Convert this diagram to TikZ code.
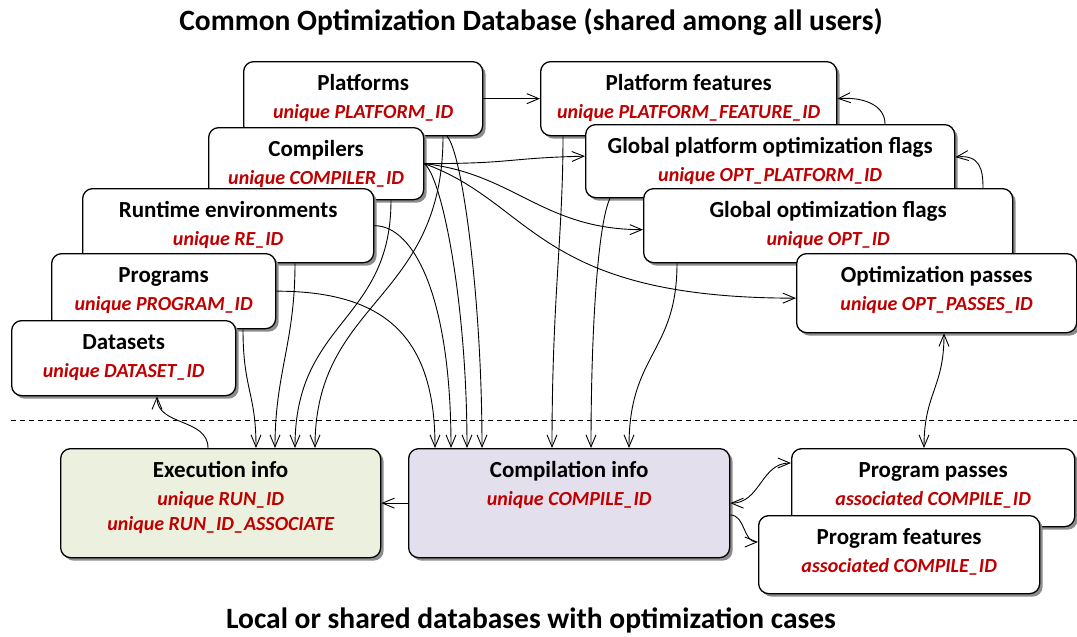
\documentclass[tikz,border=0pt]{standalone}
\usepackage{fontspec}
\setmainfont{Carlito}
\usetikzlibrary{arrows.meta,shadows,calc}

\definecolor{idred}{RGB}{192,0,0}
\definecolor{execfill}{RGB}{235,241,222}
\definecolor{compfill}{RGB}{228,223,236}

\newcommand{\idtext}[1]{{\color{idred}\fontsize{20}{24}\selectfont\bfseries\itshape #1}}
\newcommand{\dbfield}[2]{\begin{tabular}[t]{@{}c@{}}\bfseries #1\\ \idtext{#2}\end{tabular}}

\begin{document}
\begin{tikzpicture}[>={Straight Barb[length=12pt,width=10pt]}, x=1pt, y=-1pt]

\tikzset{%
db table/.style={
draw,
line width=1.3pt,
rounded corners=10pt,
fill=white,
anchor=north west,
inner sep=0pt,
text height=29pt,
font=\fontsize{23}{28}\selectfont,
drop shadow={shadow xshift=3pt, shadow yshift=-3pt, fill=black!45, opacity=1}
},
link/.style={->, line width=0.9pt},
caption/.style={font=\fontsize{29.5}{34}\selectfont\bfseries},
}

\useasboundingbox (0,0) rectangle (1077,637);

% Shared database tables (drawn back to front)
\foreach \nm/\bx/\by/\bw/\bh/\head/\key [evaluate=\bh as \dep using \bh-29] in {
plat/243/61/239/74/Platforms/unique PLATFORM\_ID,
comp/208/127/215/72/Compilers/unique COMPILER\_ID,
rte/82/188/291/74/Runtime environments/unique RE\_ID,
prog/51/253/224/75/Programs/unique PROGRAM\_ID,
data/11/320/224/75/Datasets/unique DATASET\_ID,
pfeat/540/61/296/74/Platform features/unique PLATFORM\_FEATURE\_ID,
gpflags/585/124/369/73/Global platform optimization flags/unique OPT\_PLATFORM\_ID,
gflags/643/188/369/74/Global optimization flags/unique OPT\_ID,
opass/796/253/280/79/Optimization passes/unique OPT\_PASSES\_ID,
ppass/791/448/283/78/Program passes/associated COMPILE\_ID,
pfeat2/758/515/281/78/Program features/associated COMPILE\_ID}
\node [db table, minimum width=\bw, text depth=\dep pt] (\nm) at (\bx,\by) {\dbfield{\head}{\key}};

% Local tables
\node [db table, fill=execfill, minimum width=320, text depth=80pt] (exec) at (60,448)
{\begin{tabular}[t]{@{}c@{}}\bfseries Execution info\\ \idtext{unique RUN\_ID}\\[-3pt] \idtext{unique RUN\_ID\_ASSOCIATE}\end{tabular}};
\node [db table, fill=compfill, minimum width=321, text depth=80pt] (compinfo) at (408,448)
{\dbfield{Compilation info}{unique COMPILE\_ID}};

% Titles and separator
\node [caption] (top-title) at (531,22) {Common Optimization Database (shared among all users)};
\node [caption] (bottom-title) at (531,620) {Local or shared databases with optimization cases};
\draw [dash pattern=on 5pt off 4pt, line width=0.8pt] (11,420) -- (1077,420);

% Links among shared tables
\draw [link] (plat) -- (pfeat);
\draw [link] ($(gpflags.north west)+(300,0)$) .. controls +(0,-18) and +(28,-2) .. (pfeat.east);
\draw [link] ($(gflags.north west)+(340,0)$) .. controls +(0,-18) and +(25,-3) .. ($(gpflags.east)+(0,-4)$);
\draw [link] (comp.east) .. controls +(90,0) and +(-80,2) .. ($(gpflags.west)+(0,-5)$);
\draw [link] (comp.east) .. controls +(90,10) and +(-100,0) .. ($(gflags.west)+(0,4)$);
\draw [link] (comp.east) .. controls +(110,40) and +(-260,0) .. ($(opass.west)+(0,5)$);

% Links into execution info
\draw [link] ($(prog.south west)+(192,0)$) .. controls +(0,60) and +(0,-55) .. ($(exec.north west)+(196,0)$);
\draw [link] ($(rte.south west)+(213,0)$) .. controls +(0,80) and +(0,-75) .. ($(exec.north west)+(215,0)$);
\draw [link] ($(comp.south west)+(183,0)$) .. controls +(0,122) and +(0,-128) .. ($(exec.north west)+(235,0)$);
\draw [link] ($(plat.south west)+(200,0)$) .. controls +(0,165) and +(0,-148) .. ($(exec.north west)+(255,0)$);
\draw [link] ($(exec.north west)+(148,0)$) .. controls +(0,-30) and +(0,30) .. ($(data.south west)+(146,0)$);

% Links into compilation info
\draw [link] (prog.east) .. controls +(110,0) and +(0,-110) .. ($(compinfo.north west)+(27,0)$);
\draw [link] (rte.east) .. controls +(40,0) and +(0,-150) .. ($(compinfo.north west)+(43,0)$);
\draw [link] (comp.east) .. controls +(17,12) and +(0,-148) .. ($(compinfo.north west)+(59,0)$);
\draw [link] ($(plat.south west)+(204,0)$) .. controls +(15,15) and +(0,-150) .. ($(compinfo.north west)+(74,0)$);
\draw [link] ($(pfeat.south west)+(23,0)$) .. controls +(0,100) and +(0,-150) .. ($(compinfo.north west)+(144,0)$);
\draw [link] ($(gpflags.south west)+(25,0)$) .. controls +(-12,25) and +(0,-120) .. ($(compinfo.north west)+(183,0)$);
\draw [link] ($(gflags.south west)+(34,0)$) .. controls +(0,90) and +(0,-95) .. ($(compinfo.north west)+(221,0)$);
\draw [link] (compinfo) -- (exec);

% Program passes and features
\draw [link, <->] ($(opass.south west)+(148,0)$) .. controls +(0,55) and +(0,-55) .. ($(ppass.north west)+(133,0)$);
\draw [link, <->] (compinfo.east) .. controls +(30,0) and +(-30,0) .. ($(ppass.north west)+(0,15)$);
\draw [link] ($(compinfo.north east)+(0,67)$) .. controls +(15,0) and +(-15,0) .. ($(pfeat2.north west)+(0,27)$);

\end{tikzpicture}
\end{document}
